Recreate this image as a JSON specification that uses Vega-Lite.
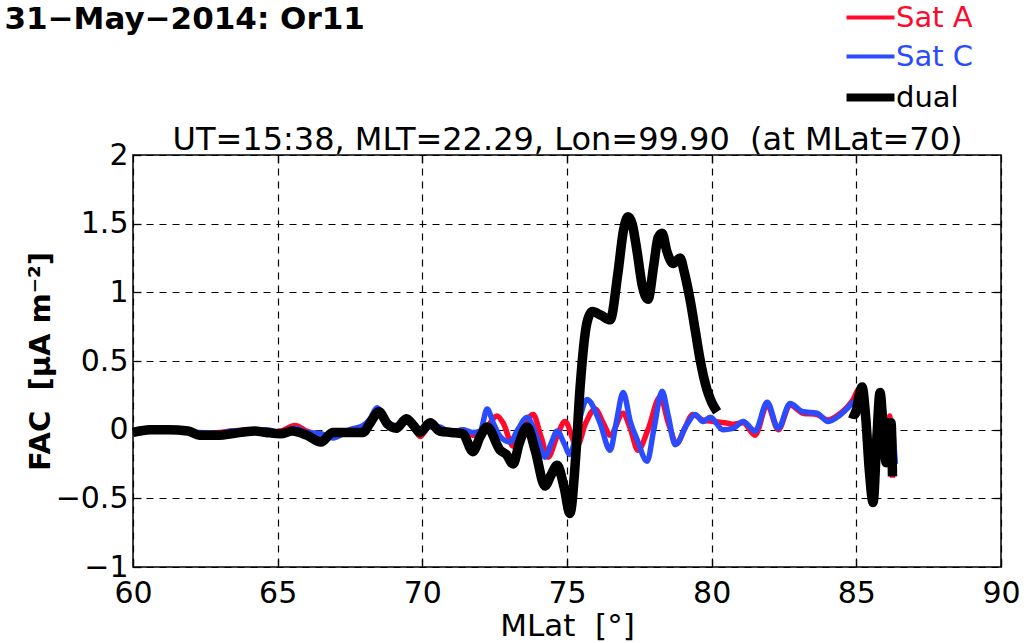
{
 "$schema": "https://vega.github.io/schema/vega-lite/v6.json",
 "width": 868, "height": 412,
 "autosize": {"type": "none"},
 "padding": {"left": 133, "top": 155, "right": 27, "bottom": 76},
 "background": "white",
 "config": {
  "font": "DejaVu Sans",
  "view": {"stroke": "black", "strokeWidth": 1.5},
  "axis": {"domain": false, "tickColor": "black", "tickWidth": 1.3, "labelColor": "black", "titleColor": "black",
   "labelFont": "DejaVu Sans", "titleFont": "DejaVu Sans", "labelFontSize": 30, "titleFontSize": 31, "titleFontWeight": "normal",
   "labelFlush": false, "labelOverlap": false,
   "gridColor": "black", "gridDash": [7, 6], "gridWidth": 1.2, "gridOpacity": 1}
 },
 "datasets": {"d": [
  {"s":"Sat A","g":1,"x":60.0,"y":-0.01},{"s":"Sat A","g":1,"x":60.6,"y":0.01},{"s":"Sat A","g":1,"x":61.2,"y":0.0},{"s":"Sat A","g":1,"x":61.9,"y":-0.01},
  {"s":"Sat A","g":1,"x":62.3,"y":-0.03},{"s":"Sat A","g":1,"x":63.0,"y":-0.02},{"s":"Sat A","g":1,"x":63.4,"y":-0.01},{"s":"Sat A","g":1,"x":64.2,"y":0.0},
  {"s":"Sat A","g":1,"x":64.6,"y":-0.02},{"s":"Sat A","g":1,"x":65.1,"y":-0.01},{"s":"Sat A","g":1,"x":65.6,"y":0.03},{"s":"Sat A","g":1,"x":66.0,"y":-0.01},
  {"s":"Sat A","g":1,"x":66.5,"y":-0.04},{"s":"Sat A","g":1,"x":66.9,"y":-0.05},{"s":"Sat A","g":1,"x":67.5,"y":-0.01},{"s":"Sat A","g":1,"x":67.95,"y":0.02},
  {"s":"Sat A","g":1,"x":68.2,"y":0.06},{"s":"Sat A","g":1,"x":68.5,"y":0.14},{"s":"Sat A","g":1,"x":68.8,"y":0.06},{"s":"Sat A","g":1,"x":69.1,"y":0.02},
  {"s":"Sat A","g":1,"x":69.45,"y":0.08},{"s":"Sat A","g":1,"x":69.7,"y":0.02},{"s":"Sat A","g":1,"x":69.92,"y":-0.05},{"s":"Sat A","g":1,"x":70.27,"y":0.03},
  {"s":"Sat A","g":1,"x":70.6,"y":0.0},{"s":"Sat A","g":1,"x":71.0,"y":-0.02},{"s":"Sat A","g":1,"x":71.4,"y":0.0},{"s":"Sat A","g":1,"x":71.75,"y":-0.04},
  {"s":"Sat A","g":1,"x":72.1,"y":-0.02},{"s":"Sat A","g":1,"x":72.58,"y":0.1},{"s":"Sat A","g":1,"x":72.79,"y":0.05},{"s":"Sat A","g":1,"x":73.14,"y":-0.12},
  {"s":"Sat A","g":1,"x":73.45,"y":0.0},{"s":"Sat A","g":1,"x":73.83,"y":0.11},{"s":"Sat A","g":1,"x":74.1,"y":-0.05},{"s":"Sat A","g":1,"x":74.35,"y":-0.2},
  {"s":"Sat A","g":1,"x":74.65,"y":-0.05},{"s":"Sat A","g":1,"x":74.93,"y":0.06},{"s":"Sat A","g":1,"x":75.34,"y":-0.12},{"s":"Sat A","g":1,"x":75.65,"y":0.05},
  {"s":"Sat A","g":1,"x":75.97,"y":0.15},{"s":"Sat A","g":1,"x":76.25,"y":0.05},{"s":"Sat A","g":1,"x":76.49,"y":-0.04},{"s":"Sat A","g":1,"x":76.94,"y":0.12},
  {"s":"Sat A","g":1,"x":77.2,"y":0.0},{"s":"Sat A","g":1,"x":77.45,"y":-0.15},{"s":"Sat A","g":1,"x":77.8,"y":0.0},{"s":"Sat A","g":1,"x":78.22,"y":0.24},
  {"s":"Sat A","g":1,"x":78.5,"y":0.05},{"s":"Sat A","g":1,"x":78.8,"y":-0.1},{"s":"Sat A","g":1,"x":79.05,"y":0.0},{"s":"Sat A","g":1,"x":79.35,"y":0.11},
  {"s":"Sat A","g":1,"x":79.7,"y":0.07},{"s":"Sat A","g":1,"x":80.05,"y":0.06},{"s":"Sat A","g":1,"x":80.46,"y":0.05},{"s":"Sat A","g":1,"x":80.74,"y":0.04},
  {"s":"Sat A","g":1,"x":81.09,"y":0.05},{"s":"Sat A","g":1,"x":81.5,"y":-0.04},{"s":"Sat A","g":1,"x":81.92,"y":0.18},{"s":"Sat A","g":1,"x":82.3,"y":0.0},
  {"s":"Sat A","g":1,"x":82.71,"y":0.18},{"s":"Sat A","g":1,"x":83.16,"y":0.12},{"s":"Sat A","g":1,"x":83.64,"y":0.11},{"s":"Sat A","g":1,"x":84.02,"y":0.07},
  {"s":"Sat A","g":1,"x":84.33,"y":0.1},{"s":"Sat A","g":1,"x":84.71,"y":0.17},{"s":"Sat A","g":1,"x":84.89,"y":0.22},{"s":"Sat A","g":1,"x":85.1,"y":0.3},
  {"s":"Sat A","g":1,"x":85.25,"y":0.28},{"s":"Sat A","g":1,"x":85.4,"y":-0.1},{"s":"Sat A","g":1,"x":85.55,"y":-0.35},{"s":"Sat A","g":1,"x":85.7,"y":0.0},
  {"s":"Sat A","g":1,"x":85.82,"y":0.27},{"s":"Sat A","g":1,"x":85.95,"y":0.05},{"s":"Sat A","g":1,"x":86.05,"y":-0.25},{"s":"Sat A","g":1,"x":86.15,"y":0.1},
  {"s":"Sat A","g":1,"x":86.25,"y":-0.35},

  {"s":"Sat C","g":1,"x":60.0,"y":-0.02},{"s":"Sat C","g":1,"x":60.6,"y":0.0},{"s":"Sat C","g":1,"x":61.2,"y":0.0},{"s":"Sat C","g":1,"x":61.9,"y":-0.02},
  {"s":"Sat C","g":1,"x":62.3,"y":-0.02},{"s":"Sat C","g":1,"x":63.0,"y":-0.03},{"s":"Sat C","g":1,"x":63.4,"y":-0.01},{"s":"Sat C","g":1,"x":64.2,"y":-0.01},
  {"s":"Sat C","g":1,"x":64.6,"y":0.0},{"s":"Sat C","g":1,"x":65.1,"y":-0.02},{"s":"Sat C","g":1,"x":65.6,"y":0.01},{"s":"Sat C","g":1,"x":66.0,"y":-0.02},
  {"s":"Sat C","g":1,"x":66.5,"y":-0.03},{"s":"Sat C","g":1,"x":66.9,"y":-0.06},{"s":"Sat C","g":1,"x":67.5,"y":0.0},{"s":"Sat C","g":1,"x":67.95,"y":0.03},
  {"s":"Sat C","g":1,"x":68.2,"y":0.08},{"s":"Sat C","g":1,"x":68.43,"y":0.16},{"s":"Sat C","g":1,"x":68.8,"y":0.05},{"s":"Sat C","g":1,"x":69.1,"y":0.03},
  {"s":"Sat C","g":1,"x":69.45,"y":0.09},{"s":"Sat C","g":1,"x":69.7,"y":0.03},{"s":"Sat C","g":1,"x":69.92,"y":0.0},{"s":"Sat C","g":1,"x":70.27,"y":0.02},
  {"s":"Sat C","g":1,"x":70.6,"y":0.02},{"s":"Sat C","g":1,"x":71.0,"y":-0.03},{"s":"Sat C","g":1,"x":71.4,"y":0.0},{"s":"Sat C","g":1,"x":71.75,"y":-0.02},
  {"s":"Sat C","g":1,"x":72.0,"y":-0.01},{"s":"Sat C","g":1,"x":72.24,"y":0.15},{"s":"Sat C","g":1,"x":72.45,"y":0.05},{"s":"Sat C","g":1,"x":72.69,"y":-0.05},
  {"s":"Sat C","g":1,"x":73.03,"y":-0.09},{"s":"Sat C","g":1,"x":73.3,"y":0.0},{"s":"Sat C","g":1,"x":73.62,"y":0.09},{"s":"Sat C","g":1,"x":73.95,"y":-0.05},
  {"s":"Sat C","g":1,"x":74.24,"y":-0.2},{"s":"Sat C","g":1,"x":74.45,"y":-0.1},{"s":"Sat C","g":1,"x":74.66,"y":-0.01},{"s":"Sat C","g":1,"x":74.9,"y":-0.1},
  {"s":"Sat C","g":1,"x":75.1,"y":-0.18},{"s":"Sat C","g":1,"x":75.4,"y":0.05},{"s":"Sat C","g":1,"x":75.69,"y":0.22},{"s":"Sat C","g":1,"x":76.14,"y":0.05},
  {"s":"Sat C","g":1,"x":76.49,"y":-0.15},{"s":"Sat C","g":1,"x":76.7,"y":0.05},{"s":"Sat C","g":1,"x":76.94,"y":0.27},{"s":"Sat C","g":1,"x":77.2,"y":0.05},
  {"s":"Sat C","g":1,"x":77.42,"y":-0.07},{"s":"Sat C","g":1,"x":77.77,"y":-0.23},{"s":"Sat C","g":1,"x":78.0,"y":0.0},{"s":"Sat C","g":1,"x":78.29,"y":0.28},
  {"s":"Sat C","g":1,"x":78.5,"y":0.1},{"s":"Sat C","g":1,"x":78.74,"y":-0.11},{"s":"Sat C","g":1,"x":79.15,"y":0.04},{"s":"Sat C","g":1,"x":79.43,"y":0.11},
  {"s":"Sat C","g":1,"x":79.7,"y":0.06},{"s":"Sat C","g":1,"x":79.95,"y":0.09},{"s":"Sat C","g":1,"x":80.39,"y":0.0},{"s":"Sat C","g":1,"x":80.74,"y":0.01},
  {"s":"Sat C","g":1,"x":81.09,"y":0.06},{"s":"Sat C","g":1,"x":81.5,"y":-0.01},{"s":"Sat C","g":1,"x":81.92,"y":0.2},{"s":"Sat C","g":1,"x":82.3,"y":0.01},
  {"s":"Sat C","g":1,"x":82.71,"y":0.19},{"s":"Sat C","g":1,"x":83.16,"y":0.13},{"s":"Sat C","g":1,"x":83.64,"y":0.12},{"s":"Sat C","g":1,"x":84.02,"y":0.06},
  {"s":"Sat C","g":1,"x":84.33,"y":0.09},{"s":"Sat C","g":1,"x":84.71,"y":0.16},{"s":"Sat C","g":1,"x":84.89,"y":0.2},{"s":"Sat C","g":1,"x":85.05,"y":0.22},
  {"s":"Sat C","g":1,"x":85.2,"y":0.3},{"s":"Sat C","g":1,"x":85.35,"y":0.15},{"s":"Sat C","g":1,"x":85.5,"y":-0.2},{"s":"Sat C","g":1,"x":85.6,"y":-0.15},
  {"s":"Sat C","g":1,"x":85.75,"y":0.15},{"s":"Sat C","g":1,"x":85.85,"y":0.28},{"s":"Sat C","g":1,"x":86.0,"y":0.0},{"s":"Sat C","g":1,"x":86.1,"y":-0.2},
  {"s":"Sat C","g":1,"x":86.2,"y":0.05},{"s":"Sat C","g":1,"x":86.35,"y":-0.25},

  {"s":"dual","g":1,"x":60.0,"y":-0.02},{"s":"dual","g":1,"x":60.6,"y":0.0},{"s":"dual","g":1,"x":61.2,"y":0.0},{"s":"dual","g":1,"x":61.9,"y":-0.01},
  {"s":"dual","g":1,"x":62.3,"y":-0.04},{"s":"dual","g":1,"x":63.0,"y":-0.04},{"s":"dual","g":1,"x":63.4,"y":-0.03},{"s":"dual","g":1,"x":64.2,"y":-0.01},
  {"s":"dual","g":1,"x":64.6,"y":-0.02},{"s":"dual","g":1,"x":65.1,"y":-0.03},{"s":"dual","g":1,"x":65.5,"y":-0.01},{"s":"dual","g":1,"x":66.0,"y":-0.04},
  {"s":"dual","g":1,"x":66.5,"y":-0.09},{"s":"dual","g":1,"x":66.9,"y":-0.02},{"s":"dual","g":1,"x":67.5,"y":-0.02},{"s":"dual","g":1,"x":67.95,"y":-0.02},
  {"s":"dual","g":1,"x":68.2,"y":0.05},{"s":"dual","g":1,"x":68.5,"y":0.13},{"s":"dual","g":1,"x":68.8,"y":0.04},{"s":"dual","g":1,"x":69.1,"y":0.01},
  {"s":"dual","g":1,"x":69.45,"y":0.08},{"s":"dual","g":1,"x":69.7,"y":0.03},{"s":"dual","g":1,"x":69.92,"y":-0.02},{"s":"dual","g":1,"x":70.27,"y":0.05},
  {"s":"dual","g":1,"x":70.6,"y":-0.01},{"s":"dual","g":1,"x":71.0,"y":-0.02},{"s":"dual","g":1,"x":71.4,"y":-0.03},{"s":"dual","g":1,"x":71.75,"y":-0.16},
  {"s":"dual","g":1,"x":72.0,"y":-0.05},{"s":"dual","g":1,"x":72.24,"y":0.02},{"s":"dual","g":1,"x":72.69,"y":-0.15},{"s":"dual","g":1,"x":72.9,"y":-0.18},
  {"s":"dual","g":1,"x":73.14,"y":-0.25},{"s":"dual","g":1,"x":73.35,"y":-0.1},{"s":"dual","g":1,"x":73.62,"y":0.02},{"s":"dual","g":1,"x":73.9,"y":-0.15},
  {"s":"dual","g":1,"x":74.24,"y":-0.41},{"s":"dual","g":1,"x":74.45,"y":-0.33},{"s":"dual","g":1,"x":74.66,"y":-0.26},{"s":"dual","g":1,"x":74.9,"y":-0.42},
  {"s":"dual","g":1,"x":75.1,"y":-0.61},{"s":"dual","g":1,"x":75.3,"y":-0.2},{"s":"dual","g":1,"x":75.45,"y":0.3},{"s":"dual","g":1,"x":75.69,"y":0.78},
  {"s":"dual","g":1,"x":75.87,"y":0.86},{"s":"dual","g":1,"x":76.2,"y":0.83},{"s":"dual","g":1,"x":76.49,"y":0.8},{"s":"dual","g":1,"x":76.76,"y":1.14},
  {"s":"dual","g":1,"x":76.95,"y":1.45},{"s":"dual","g":1,"x":77.11,"y":1.55},{"s":"dual","g":1,"x":77.25,"y":1.5},{"s":"dual","g":1,"x":77.42,"y":1.3},
  {"s":"dual","g":1,"x":77.6,"y":1.05},{"s":"dual","g":1,"x":77.8,"y":0.95},{"s":"dual","g":1,"x":78.0,"y":1.2},{"s":"dual","g":1,"x":78.15,"y":1.4},
  {"s":"dual","g":1,"x":78.29,"y":1.43},{"s":"dual","g":1,"x":78.45,"y":1.3},{"s":"dual","g":1,"x":78.67,"y":1.21},{"s":"dual","g":1,"x":78.91,"y":1.25},
  {"s":"dual","g":1,"x":79.05,"y":1.15},{"s":"dual","g":1,"x":79.25,"y":0.95},{"s":"dual","g":1,"x":79.45,"y":0.7},{"s":"dual","g":1,"x":79.6,"y":0.51},
  {"s":"dual","g":1,"x":79.84,"y":0.29},{"s":"dual","g":1,"x":80.0,"y":0.2},{"s":"dual","g":1,"x":80.19,"y":0.13},
  {"s":"dual","g":2,"x":84.78,"y":0.12},{"s":"dual","g":2,"x":84.95,"y":0.11},{"s":"dual","g":2,"x":85.1,"y":0.25},{"s":"dual","g":2,"x":85.2,"y":0.31},
  {"s":"dual","g":2,"x":85.32,"y":0.1},{"s":"dual","g":2,"x":85.45,"y":-0.3},{"s":"dual","g":2,"x":85.58,"y":-0.53},{"s":"dual","g":2,"x":85.7,"y":-0.1},
  {"s":"dual","g":2,"x":85.82,"y":0.27},{"s":"dual","g":2,"x":85.93,"y":0.0},{"s":"dual","g":2,"x":86.03,"y":-0.24},{"s":"dual","g":2,"x":86.12,"y":0.05},
  {"s":"dual","g":2,"x":86.2,"y":0.05},{"s":"dual","g":2,"x":86.25,"y":-0.34}
 ]},
 "data": {"name": "d"},
 "layer": [
  {
   "transform": [{"filter": "datum.s === 'Sat A'"}],
   "mark": {"type": "line", "strokeWidth": 5.5, "interpolate": "monotone"},
   "encoding": {
    "x": {"field": "x", "type": "quantitative", "scale": {"domain": [60, 90], "nice": false, "zero": false},
     "axis": {"orient": "bottom", "values": [60, 65, 70, 75, 80, 85, 90], "grid": true, "tickSize": -8, "labelPadding": 19,
      "title": "MLat \u00a0[°]", "titleY": 44, "titleBaseline": "top", "titleFontSize": 31}},
    "y": {"field": "y", "type": "quantitative", "scale": {"domain": [-1, 2], "nice": false, "zero": false},
     "axis": {"orient": "left", "values": [-1, -0.5, 0, 0.5, 1, 1.5, 2], "format": ".1~f", "grid": true, "tickSize": -8, "labelPadding": 13,
      "title": "FAC \u00a0[µA m⁻²]", "titleFontWeight": "bold", "titleFontSize": 29, "titleAngle": -90, "titleX": -93, "titleY": 206,
      "titleAlign": "center", "titleBaseline": "middle"}},
    "color": {"field": "s", "type": "nominal", "title": null,
     "scale": {"domain": ["Sat A", "Sat C", "dual"], "range": ["#ff0a2a", "#2b4bff", "#000000"]},
     "legend": {"orient": "none", "legendX": 723, "legendY": -152, "symbolType": "stroke", "symbolSize": 2300, "symbolStrokeWidth": 4,
      "labelFont": "DejaVu Sans", "labelFontSize": 29, "labelOffset": 11, "rowPadding": 9, "padding": 0,
      "encode": {"labels": {"update": {"fill": {"signal": "datum.value === 'Sat A' ? '#ff0a2a' : datum.value === 'Sat C' ? '#2b4bff' : '#000000'"}}},
                 "symbols": {"update": {"strokeWidth": {"signal": "datum.value === 'dual' ? 8 : 4"}}}}}}
   }
  },
  {
   "transform": [{"filter": "datum.s === 'Sat C'"}],
   "mark": {"type": "line", "strokeWidth": 5.5, "interpolate": "monotone"},
   "encoding": {
    "x": {"field": "x", "type": "quantitative",
     "axis": {"orient": "top", "values": [65, 70, 75, 80, 85], "labels": false, "grid": false, "tickSize": -8,
      "title": "UT=15:38, MLT=22.29, Lon=99.90 \u00a0(at MLat=70)", "titleFontSize": 32, "titleY": -6, "titleBaseline": "alphabetic"}},
    "y": {"field": "y", "type": "quantitative",
     "axis": {"orient": "right", "values": [-0.5, 0, 0.5, 1, 1.5], "labels": false, "grid": false, "tickSize": -8,
      "title": "31−May−2014: Or11", "titleFontWeight": "bold", "titleFontSize": 31, "titleAngle": 0, "titleX": -997, "titleY": -127,
      "titleAlign": "left", "titleBaseline": "alphabetic"}},
    "color": {"field": "s", "type": "nominal"}
   }
  },
  {
   "transform": [{"filter": "datum.s === 'dual'"}],
   "mark": {"type": "line", "strokeWidth": 9.5, "interpolate": "monotone"},
   "encoding": {
    "x": {"field": "x", "type": "quantitative", "axis": null},
    "y": {"field": "y", "type": "quantitative", "axis": null},
    "color": {"field": "s", "type": "nominal"},
    "detail": {"field": "g"}
   }
  }
 ],
 "resolve": {"axis": {"x": "independent", "y": "independent"}}
}
